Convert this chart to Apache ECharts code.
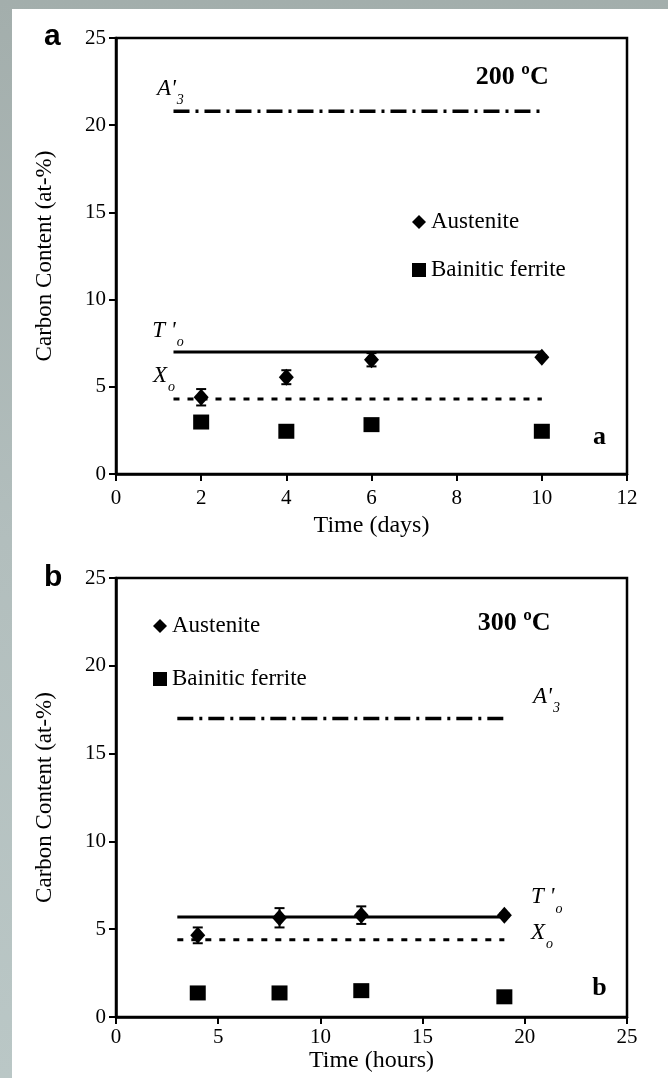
<!DOCTYPE html>
<html>
<head>
<meta charset="utf-8">
<script src="https://cdn.jsdelivr.net/npm/echarts@6.0.0/dist/echarts.min.js"></script>
<style>
html, body { margin: 0; padding: 0; }
body { width: 668px; height: 1078px; position: relative; overflow: hidden;
       background: linear-gradient(180deg, #a3aeac 0%, #b2bebd 50%, #bac7c6 100%); }
#sheet { position: absolute; left: 12px; top: 9px; right: 0; bottom: 0; background: #fff; }
#chart { position: absolute; left: 0; top: 0; width: 668px; height: 1078px; }
</style>
</head>
<body>
<div id="sheet"></div>
<div id="chart"></div>
<script>
// panel a : 200 oC, time in days
const daysA = [2, 4, 6, 10];
const austeniteA = [4.4, 5.55, 6.55, 6.7];
const austeniteErrA = [0.47, 0.4, 0.38, 0.1];
const ferriteA = [2.98, 2.45, 2.83, 2.45];
const spanA = [1.35, 10];
const t0A = 7.0, x0A = 4.3, a3A = 20.8;

// panel b : 300 oC, time in hours
const hoursB = [4, 8, 12, 19];
const austeniteB = [4.65, 5.65, 5.8, 5.8];
const austeniteErrB = [0.45, 0.55, 0.5, 0.1];
const ferriteB = [1.37, 1.37, 1.5, 1.15];
const spanB = [3, 19];
const t0B = 5.7, x0B = 4.4, a3B = 17.0;

// axes
const yMax = 25, yStep = 5;
const xMaxA = 12, xStepA = 2;
const xMaxB = 25, xStepB = 5;

// text notes inside the plots: [x, y, text]
const notesA = [
    [0.85, 7.9, "{i|T '}{s|o}"],
    [0.87, 5.3, "{i|X}{s|o}"],
    [0.96, 21.75, "{i|A'}{s|3}"],
    [8.45, 22.75, "{b|200 \u00baC}"],
    [11.2, 2.1, "{b|a}"]
];
const notesB = [
    [20.3, 6.5, "{i|T '}{s|o}"],
    [20.3, 4.5, "{i|X}{s|o}"],
    [20.4, 17.9, "{i|A'}{s|3}"],
    [17.7, 22.4, "{b|300 \u00baC}"],
    [23.3, 1.66, "{b|b}"]
];

const serif = "'Liberation Serif', 'Times New Roman', serif";
const myChart = echarts.init(document.getElementById('chart'));

function xAxisOf(gi, max, step, name, margin, gap){
    return {
        type: 'value', gridIndex: gi, min: 0, max: max, interval: step,
        name: name, nameLocation: 'middle', nameGap: gap,
        nameTextStyle: { color: '#000', fontFamily: serif, fontSize: 24 },
        axisLine: { onZero: false, lineStyle: { color: '#000', width: 2.5 } },
        axisTick: { length: 7, lineStyle: { color: '#000', width: 2 } },
        axisLabel: { color: '#000', fontFamily: serif, fontSize: 21, margin: margin },
        splitLine: { show: false }
    };
}
function yAxisOf(gi){
    return {
        type: 'value', gridIndex: gi, min: 0, max: yMax, interval: yStep,
        name: 'Carbon Content (at-%)', nameLocation: 'middle', nameGap: 60,
        nameTextStyle: { color: '#000', fontFamily: serif, fontSize: 23 },
        axisLine: { onZero: false, lineStyle: { color: '#000', width: 2.5 } },
        axisTick: { length: 7, lineStyle: { color: '#000', width: 2 } },
        axisLabel: { color: '#000', fontFamily: serif, fontSize: 21, margin: 10 },
        splitLine: { show: false }
    };
}
function hline(gi, span, y, type, width){
    return {
        type: 'line', xAxisIndex: gi, yAxisIndex: gi, symbol: 'none', silent: true, z: 3,
        data: [[span[0], y], [span[1], y]],
        lineStyle: { color: '#000', width: width, type: type }
    };
}
function errorBars(gi, xs, ys, errs){
    return {
        type: 'custom', xAxisIndex: gi, yAxisIndex: gi, silent: true, z: 4,
        data: xs.map((x, i) => [x, ys[i] - errs[i], ys[i] + errs[i]]),
        renderItem: (params, api) => {
            const lo = api.coord([api.value(0), api.value(1)]);
            const hi = api.coord([api.value(0), api.value(2)]);
            const w = 5;
            const st = { stroke: '#000', lineWidth: 2 };
            return { type: 'group', children: [
                { type: 'line', shape: { x1: lo[0], y1: lo[1], x2: hi[0], y2: hi[1] }, style: st },
                { type: 'line', shape: { x1: lo[0] - w, y1: lo[1], x2: lo[0] + w, y2: lo[1] }, style: st },
                { type: 'line', shape: { x1: hi[0] - w, y1: hi[1], x2: hi[0] + w, y2: hi[1] }, style: st }
            ]};
        }
    };
}
function points(gi, name, xs, ys, symbol, size){
    return {
        type: 'scatter', name: name, xAxisIndex: gi, yAxisIndex: gi, z: 5,
        symbol: symbol, symbolSize: size,
        itemStyle: { color: '#000', opacity: 1 },
        data: xs.map((x, i) => [x, ys[i]])
    };
}
function notes(gi, list){
    return {
        type: 'scatter', xAxisIndex: gi, yAxisIndex: gi, symbolSize: 0, silent: true, z: 6,
        itemStyle: { color: '#000', opacity: 1 },
        data: list,
        label: {
            show: true, position: 'inside', align: 'left', verticalAlign: 'middle',
            color: '#000', opacity: 1,
            formatter: p => p.data[2],
            rich: {
                i: { fontFamily: serif, fontStyle: 'italic', fontSize: 23, color: '#000',
                     verticalAlign: 'bottom', lineHeight: 26, padding: [0, 1, 7, 0] },
                s: { fontFamily: serif, fontStyle: 'italic', fontSize: 14, color: '#000',
                     verticalAlign: 'bottom', lineHeight: 14 },
                b: { fontFamily: serif, fontWeight: 'bold', fontSize: 26, color: '#000' }
            }
        }
    };
}
function legendOf(left, top, gap){
    return {
        orient: 'vertical', left: left, top: top, itemGap: gap,
        itemWidth: 14, itemHeight: 14, selectedMode: false,
        textStyle: { color: '#000', fontFamily: serif, fontSize: 23, lineHeight: 24 },
        data: [{ name: 'Austenite', icon: 'diamond' }, { name: 'Bainitic ferrite', icon: 'rect' }]
    };
}

const option = {
    animation: false,
    graphic: [
        { type: 'text', left: 44, top: 22, style: { text: 'a', fill: '#000',
          font: "bold 30px 'Liberation Sans', Arial, sans-serif" } },
        { type: 'text', left: 44, top: 563, style: { text: 'b', fill: '#000',
          font: "bold 30px 'Liberation Sans', Arial, sans-serif" } }
    ],
    legend: [legendOf(407, 205, 24), legendOf(148, 609, 29)],
    grid: [
        { left: 116, top: 38, width: 511, height: 436, show: true, borderColor: '#000', borderWidth: 2.5 },
        { left: 116, top: 578, width: 511, height: 439, show: true, borderColor: '#000', borderWidth: 2.5 }
    ],
    xAxis: [
        xAxisOf(0, xMaxA, xStepA, 'Time (days)', 14, 40),
        xAxisOf(1, xMaxB, xStepB, 'Time (hours)', 10, 28)
    ],
    yAxis: [yAxisOf(0), yAxisOf(1)],
    series: [
        hline(0, spanA, a3A, [16, 6, 3, 6], 3.5),
        hline(0, spanA, t0A, 'solid', 3),
        hline(0, spanA, x0A, [6, 8], 3),
        errorBars(0, daysA, austeniteA, austeniteErrA),
        points(0, 'Austenite', daysA, austeniteA, 'diamond', [15, 17]),
        points(0, 'Bainitic ferrite', daysA, ferriteA, 'rect', [16, 15]),
        notes(0, notesA),

        hline(1, spanB, a3B, [16, 6, 3, 6], 3.5),
        hline(1, spanB, t0B, 'solid', 3),
        hline(1, spanB, x0B, [6, 8], 3),
        errorBars(1, hoursB, austeniteB, austeniteErrB),
        points(1, 'Austenite', hoursB, austeniteB, 'diamond', [15, 17]),
        points(1, 'Bainitic ferrite', hoursB, ferriteB, 'rect', [16, 15]),
        notes(1, notesB)
    ]
};

myChart.setOption(option, true);
</script>
</body>
</html>
